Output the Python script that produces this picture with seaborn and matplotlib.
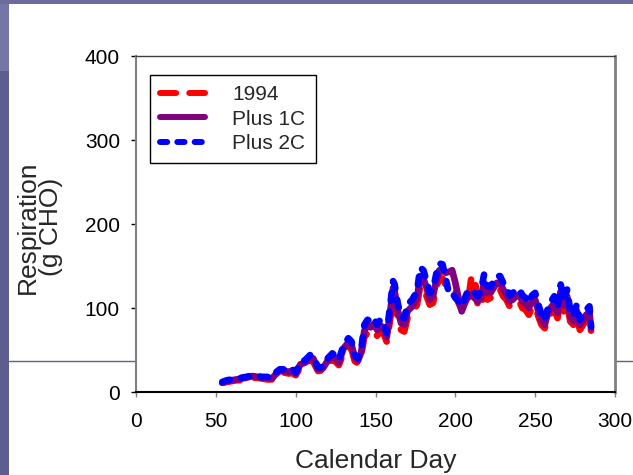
import matplotlib
matplotlib.use("Agg")
import matplotlib.pyplot as plt
import seaborn as sns
import pandas as pd
from matplotlib.lines import Line2D
from matplotlib.patches import Rectangle

sns.set_style("ticks")
plt.rcParams["font.family"] = ["Liberation Sans", "DejaVu Sans"]

# ---------------- data ----------------
days = [54, 57, 60, 63, 66, 69, 73, 76, 79, 82, 85, 88, 90, 93, 96, 98, 100,
        103, 106, 109, 111, 114, 117, 120, 123, 125, 127, 130, 133, 135, 137,
        139, 141, 143, 145, 147, 149, 151, 153, 155, 157, 159, 161, 162, 164,
        166, 168, 170, 173, 176, 178, 180, 182, 184, 186, 188, 190, 192, 194,
        196, 198, 200, 202, 204, 206, 208, 210, 212, 214, 216, 218, 220, 222,
        224, 226, 228, 230, 232, 234, 236, 238, 240, 242, 244, 246, 248, 250,
        252, 254, 256, 258, 260, 262, 264, 266, 268, 270, 272, 274, 276, 278,
        280, 282, 284, 285]

resp_plus2c = [12, 14, 15, 16, 17, 18, 20, 19, 18, 18, 17, 24, 27, 27, 26, 28, 23,
               36, 38, 44, 43, 29, 30, 40, 46, 43, 38, 56, 64, 60, 44,
               40, 50, 80, 86, 84, 88, 80, 86, 84, 70, 100, 132, 128, 105,
               90, 88, 104, 110, 120, 148, 145, 132, 118, 122, 140, 153, 152, 135,
               117, 118, 112, 108, 102, 112, 121, 122, 118, 114, 120, 140, 126, 125,
               132, 138, 138, 130, 124, 115, 118, 121, 123, 115, 112, 106, 115, 118,
               104, 92, 85, 100, 108, 114, 100, 128, 110, 122, 97, 90, 104, 86,
               92, 98, 102, 78]

resp_plus1c = [11, 13, 14, 15, 16, 17, 19, 18, 17, 17, 16, 22, 25, 25, 24, 26, 22,
               33, 35, 41, 40, 27, 28, 37, 43, 40, 35, 52, 59, 56, 41,
               37, 47, 73, 79, 77, 81, 74, 79, 77, 65, 92, 124, 120, 97,
               82, 80, 96, 102, 112, 138, 135, 124, 110, 114, 132, 145, 144, 142,
               143, 145, 130, 112, 96, 106, 114, 116, 112, 108, 112, 130, 118, 118,
               124, 130, 130, 122, 116, 108, 110, 114, 116, 108, 105, 100, 108, 110,
               96, 86, 80, 94, 101, 106, 94, 120, 103, 114, 90, 84, 97, 80,
               86, 92, 95, 76]

resp_1994 = [11, 12, 13, 14, 14, 15, 17, 17, 16, 15, 15, 20, 23, 23, 22, 23, 20,
             30, 32, 38, 36, 25, 26, 34, 39, 36, 32, 47, 54, 51, 37,
             34, 43, 66, 70, 68, 72, 67, 72, 70, 60, 84, 114, 110, 88,
             74, 72, 88, 94, 104, 126, 124, 114, 104, 106, 124, 136, 135, 128,
             130, 128, 120, 106, 98, 104, 108, 136, 138, 104, 100, 118, 110, 112,
             116, 122, 122, 114, 110, 102, 104, 107, 108, 100, 98, 92, 100, 102,
             90, 80, 76, 88, 94, 98, 88, 112, 96, 106, 84, 80, 90, 74,
             80, 86, 88, 73]

series_names = ["1994", "Plus 1C", "Plus 2C"]
series_values = [resp_1994, resp_plus1c, resp_plus2c]
series_colors = ["#ff0000", "#800080", "#0000ff"]
# dash patterns in units of line width (matplotlib scales them by lw)
series_dashes = [(2.7, 2.2), None, (1.2, 1.7)]

x_ticks = [0, 50, 100, 150, 200, 250, 300]
y_ticks = [0, 100, 200, 300, 400]

df = pd.DataFrame({
    "day": days * 3,
    "resp": resp_1994 + resp_plus1c + resp_plus2c,
    "series": sum([[n] * len(days) for n in series_names], []),
})

# ---------------- figure ----------------
W, H = 633, 475
fig = plt.figure(figsize=(W / 100, H / 100), dpi=100)
fig.patch.set_facecolor("white")

# slide decorations behind the chart
fig.add_artist(Rectangle((0, 0), 9 / W, 1 - 71 / H, transform=fig.transFigure,
                         facecolor="#5d5d8f", edgecolor="none", zorder=-2))
fig.add_artist(Rectangle((0, 1 - 71 / H), 9 / W, 71 / H, transform=fig.transFigure,
                         facecolor="#7676a6", edgecolor="none", zorder=-2))
fig.add_artist(Rectangle((0, 1 - 4 / H), 1, 4 / H, transform=fig.transFigure,
                         facecolor="#6c6c9c", edgecolor="none", zorder=-2))
fig.add_artist(Line2D([9 / W, 1], [1 - 360.5 / H, 1 - 360.5 / H], transform=fig.transFigure,
                      color="#5d5d8f", lw=1.0, zorder=-1))

ax = fig.add_axes([136 / W, 83 / H, 479 / W, 336 / H])
ax.set_facecolor("white")

LW_DATA = 4.8
LW_LEG = 4.3
for name, color, dash in zip(series_names, series_colors, series_dashes):
    sub = df[df["series"] == name]
    sns.lineplot(data=sub, x="day", y="resp", color=color, lw=LW_DATA, ax=ax,
                 legend=False, estimator=None, sort=False)
    line = ax.get_lines()[-1]
    line.set_solid_capstyle("round")
    line.set_dash_capstyle("round")
    line.set_solid_joinstyle("round")
    line.set_dash_joinstyle("round")
    if dash is not None:
        line.set_dashes(list(dash))

ax.set_xlim(0, 300)
ax.set_ylim(0, 400)
ax.set_xticks(x_ticks)
ax.set_yticks(y_ticks)
ax.tick_params(axis="both", direction="out", length=3.6, width=1.0,
               labelsize=15, pad=8, colors="black")
ax.tick_params(axis="x", color="#808080", pad=11)

for side, col, lw in [("left", "#808080", 1.5), ("right", "#808080", 2.0),
                      ("top", "#404040", 1.0), ("bottom", "black", 1.5)]:
    ax.spines[side].set_visible(True)
    ax.spines[side].set_color(col)
    ax.spines[side].set_linewidth(lw)

ax.set_xlabel("Calendar Day", fontsize=19)
ax.xaxis.set_label_coords(0.5, -0.17)
ax.set_ylabel("Respiration\n(g CHO)", fontsize=19, multialignment="center",
              linespacing=0.95)
ax.yaxis.set_label_coords(-0.152, 0.49)

handles = []
for name, color, dash in zip(series_names, series_colors, series_dashes):
    h = Line2D([0], [0], color=color, lw=LW_LEG, solid_capstyle="round",
               dash_capstyle="round")
    if dash is not None:
        h.set_dashes(list(dash))
    handles.append(h)

leg = ax.legend(handles, series_names, loc="upper left",
                bbox_to_anchor=(14 / 479, (392 - 75) / 336), borderaxespad=0,
                fontsize=15, frameon=True, fancybox=False, framealpha=1,
                edgecolor="black", handlelength=2.15, handletextpad=1.3,
                borderpad=0.5, labelspacing=0.25)
leg.get_frame().set_linewidth(1.0)

fig.savefig("out.png", dpi=100, facecolor=fig.get_facecolor())
